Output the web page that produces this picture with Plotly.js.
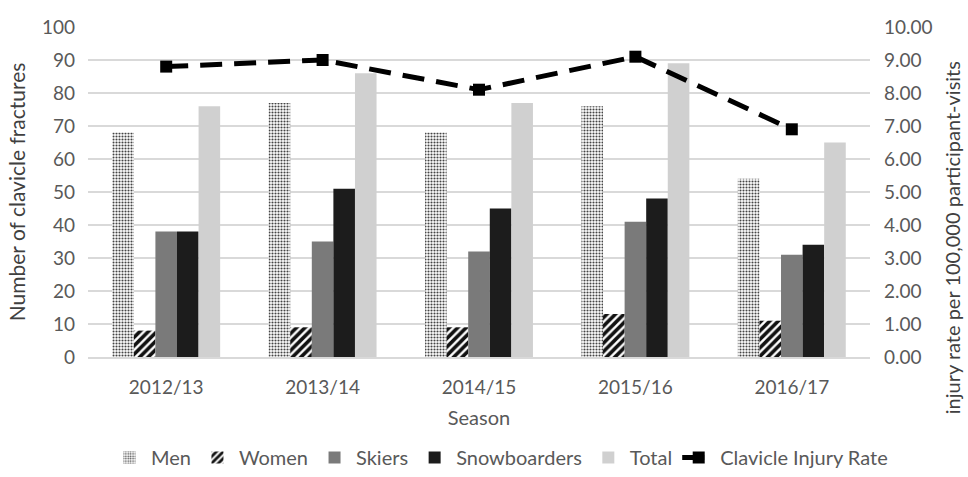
<!DOCTYPE html>
<html>
<head>
<meta charset="utf-8">
<script src="https://cdn.plot.ly/plotly-3.0.1.min.js"></script>
<style>html,body{margin:0;padding:0;background:#fff;}#chart{width:968px;height:477px;}</style>
</head>
<body>
<div id="chart"></div>
<script>
const seasons = ["2012/13", "2013/14", "2014/15", "2015/16", "2016/17"];
const men = [68, 77, 68, 76, 54];
const women = [8, 9, 9, 13, 11];
const skiers = [38, 35, 32, 41, 31];
const snowboarders = [38, 51, 45, 48, 34];
const total = [76, 86, 77, 89, 65];
const injuryRate = [8.8, 9.0, 8.1, 9.1, 6.9];

const FONT = "Lato, 'Open Sans', sans-serif";
const TXT = "#595959";

const traces = [
  {type: "bar", name: "Men", x: seasons, y: men,
   marker: {color: "#ffffff", pattern: {shape: ".", fgcolor: "#444444", bgcolor: "#ffffff", size: 3, solidity: 0.4}, line: {width: 0}}},
  {type: "bar", name: "Women", x: seasons, y: women,
   marker: {color: "#ffffff", pattern: {shape: "/", fgcolor: "#111111", bgcolor: "#ffffff", size: 6, solidity: 0.6}, line: {width: 0}}},
  {type: "bar", name: "Skiers", x: seasons, y: skiers, marker: {color: "#7a7a7a", line: {width: 0}}},
  {type: "bar", name: "Snowboarders", x: seasons, y: snowboarders, marker: {color: "#1c1c1c", line: {width: 0}}},
  {type: "bar", name: "Total", x: seasons, y: total, marker: {color: "#d0d0d0", line: {width: 0}}},
  {type: "scatter", mode: "lines+markers", name: "Clavicle Injury Rate", x: seasons, y: injuryRate, yaxis: "y2",
   line: {color: "#000000", width: 5, dash: "22px,12px"},
   marker: {symbol: "square", size: 12, color: "#000000"}}
];

const layout = {
  width: 968, height: 477,
  margin: {l: 88, r: 98, t: 27, b: 120},
  paper_bgcolor: "#ffffff", plot_bgcolor: "#ffffff",
  font: {family: FONT, color: TXT, size: 19},
  barmode: "group", bargap: 0.31, bargroupgap: 0,
  showlegend: true,
  legend: {orientation: "h", xref: "container", yref: "container", x: 0.517, xanchor: "center", y: 0.0, yanchor: "bottom",
           font: {family: FONT, size: 20, color: TXT}, itemwidth: 33, traceorder: "normal"},
  xaxis: {type: "category", showgrid: false, showline: true, linecolor: "#d9d9d9", linewidth: 1.5,
          ticks: "", ticklabelstandoff: 12, tickfont: {size: 19, color: TXT},
          title: {text: "Season", font: {size: 20, color: TXT}, standoff: 14}},
  yaxis: {range: [0, 100], dtick: 10, showgrid: true, gridcolor: "#d9d9d9", gridwidth: 1.5, zeroline: false,
          showline: false, ticks: "", ticklabelstandoff: 12, tickfont: {size: 19, color: TXT},
          title: {text: "Number of clavicle fractures", font: {size: 21, color: "#404040"}, standoff: 10}},
  yaxis2: {range: [0, 10], dtick: 1, tickformat: ".2f", overlaying: "y", side: "right", showgrid: false, zeroline: false,
           showline: false, ticks: "", ticklabelstandoff: 13, tickfont: {size: 19, color: TXT}},
  annotations: [{
    text: "injury rate per 100,000 participant-visits", textangle: -90,
    xref: "paper", yref: "paper", x: 1, xshift: 82, xanchor: "center", y: 0.36, yanchor: "middle",
    showarrow: false, font: {family: FONT, size: 20, color: "#404040"}
  }]
};

Plotly.newPlot("chart", traces, layout, {displayModeBar: false, responsive: false});
</script>
</body>
</html>
